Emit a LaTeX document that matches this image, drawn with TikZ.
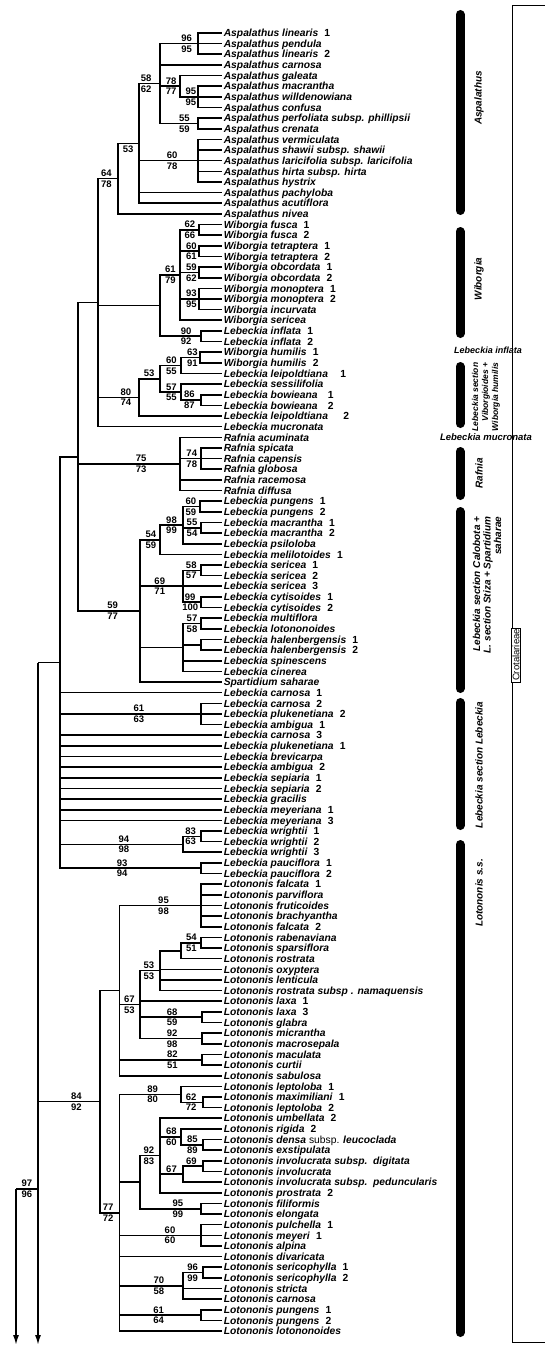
\documentclass[tikz,border=0pt]{standalone}
\usepackage{fontspec}
\setmainfont{Liberation Sans}
\usetikzlibrary{arrows.meta}
\newcommand\nr[1]{\hspace{.6em}\textup{#1}}

\begin{document}
\begin{tikzpicture}[x=1pt, y=-10.64pt, line width=1.6pt,
  leaf/.style={anchor=west, inner sep=1pt, text height=7.4pt, text depth=0pt,
    font=\fontsize{10.3}{11}\selectfont\bfseries\itshape},
  bsa/.style={above, pos=.76, inner sep=1.2pt, font=\fontsize{9.5}{9.5}\selectfont\bfseries},
  bsb/.style={below, pos=.76, inner sep=1.2pt, font=\fontsize{9.5}{9.5}\selectfont\bfseries},
  bar/.style={line width=9pt, line cap=round, shorten >=4.5pt, shorten <=4.5pt},
  grp/.style={rotate=90, inner sep=0pt, font=\fontsize{10}{10.5}\selectfont\bfseries\itshape},
  >={Latex[length=10pt,width=6pt]}]

% leaves, one per row
\foreach [count=\r] \t in {
  Aspalathus linearis\nr{1}, Aspalathus pendula, Aspalathus linearis\nr{2},
  Aspalathus carnosa, Aspalathus galeata, Aspalathus macrantha,
  Aspalathus willdenowiana, Aspalathus confusa,
  Aspalathus perfoliata subsp. phillipsii, Aspalathus crenata,
  Aspalathus vermiculata, Aspalathus shawii subsp. shawii,
  Aspalathus laricifolia subsp. laricifolia, Aspalathus hirta subsp. hirta,
  Aspalathus hystrix, Aspalathus pachyloba, Aspalathus acutiflora, Aspalathus nivea,
  Wiborgia fusca\nr{1}, Wiborgia fusca\nr{2}, Wiborgia tetraptera\nr{1},
  Wiborgia tetraptera\nr{2}, Wiborgia obcordata\nr{1}, Wiborgia obcordata\nr{2},
  Wiborgia monoptera\nr{1}, Wiborgia monoptera\nr{2}, Wiborgia incurvata,
  Wiborgia sericea, Lebeckia inflata\nr{1}, Lebeckia inflata\nr{2},
  Wiborgia humilis\nr{1}, Wiborgia humilis\nr{2}, Lebeckia leipoldtiana\hspace{.6em}\nr{1},
  Lebeckia sessilifolia, Lebeckia bowieana\hspace{.4em}\nr{1}, Lebeckia bowieana\hspace{.4em}\nr{2},
  Lebeckia leipoldtiana\hspace{.9em}\nr{2}, Lebeckia mucronata,
  Rafnia acuminata, Rafnia spicata, Rafnia capensis, Rafnia globosa,
  Rafnia racemosa, Rafnia diffusa,
  Lebeckia pungens\nr{1}, Lebeckia pungens\nr{2}, Lebeckia macrantha\nr{1},
  Lebeckia macrantha\nr{2}, Lebeckia psiloloba, Lebeckia melilotoides\nr{1},
  Lebeckia sericea\nr{1}, Lebeckia sericea\nr{2}, Lebeckia sericea\nr{3},
  Lebeckia cytisoides\nr{1}, Lebeckia cytisoides\nr{2}, Lebeckia multiflora,
  Lebeckia lotononoides, Lebeckia halenbergensis\nr{1}, Lebeckia halenbergensis\nr{2},
  Lebeckia spinescens, Lebeckia cinerea, Spartidium saharae,
  Lebeckia carnosa\nr{1}, Lebeckia carnosa\nr{2}, Lebeckia plukenetiana\nr{2},
  Lebeckia ambigua\nr{1}, Lebeckia carnosa\nr{3}, Lebeckia plukenetiana\nr{1},
  Lebeckia brevicarpa, Lebeckia ambigua\nr{2}, Lebeckia sepiaria\nr{1},
  Lebeckia sepiaria\nr{2}, Lebeckia gracilis, Lebeckia meyeriana\nr{1},
  Lebeckia meyeriana\nr{3}, Lebeckia wrightii\nr{1}, Lebeckia wrightii\nr{2},
  Lebeckia wrightii\nr{3}, Lebeckia pauciflora\nr{1}, Lebeckia pauciflora\nr{2},
  Lotononis falcata\nr{1}, Lotononis parviflora, Lotononis fruticoides,
  Lotononis brachyantha, Lotononis falcata\nr{2}, Lotononis rabenaviana,
  Lotononis sparsiflora, Lotononis rostrata, Lotononis oxyptera, Lotononis lenticula,
  Lotononis rostrata subsp . namaquensis, Lotononis laxa\nr{1}, Lotononis laxa\nr{3},
  Lotononis glabra, Lotononis micrantha, Lotononis macrosepala, Lotononis maculata,
  Lotononis curtii, Lotononis sabulosa, Lotononis leptoloba\nr{1},
  Lotononis maximiliani\nr{1}, Lotononis leptoloba\nr{2}, Lotononis umbellata\nr{2},
  Lotononis rigida\nr{2}, Lotononis densa {\mdseries\upshape subsp.} leucoclada,
  Lotononis exstipulata, Lotononis involucrata subsp.\ \ digitata,
  Lotononis involucrata, Lotononis involucrata subsp.\ \ peduncularis,
  Lotononis prostrata\nr{2}, Lotononis filiformis, Lotononis elongata,
  Lotononis pulchella\nr{1}, Lotononis meyeri\nr{1}, Lotononis alpina,
  Lotononis divaricata, Lotononis sericophylla\nr{1}, Lotononis sericophylla\nr{2},
  Lotononis stricta, Lotononis carnosa, Lotononis pungens\nr{1},
  Lotononis pungens\nr{2}, Lotononis lotononoides}
  \node[leaf] (l\r) at (222,\r) {\t};

% Aspalathus
\coordinate (lin) at (198,2);
\coordinate (mac) at (198,7);
\coordinate (gal) at (180,6);
\coordinate (perf) at (198,9.5);
\coordinate (a58) at (160,5.75);
\coordinate (shaw) at (198,13);
\coordinate (a53) at (139,11.375);
\coordinate (a64) at (118,14.6875);
\foreach \i in {1,2,3} \draw (lin) |- (l\i);
\foreach \i in {6,7,8} \draw (mac) |- (l\i);
\foreach \i in {9,10} \draw (perf) |- (l\i);
\foreach \i in {11,...,15} \draw (shaw) |- (l\i);
\draw (gal) |- (l5);
\draw (gal) |- node[bsa,pos=.8]{95} node[bsb,pos=.8]{95} (mac);
\draw (a58) |- node[bsa,pos=.85]{96} node[bsb,pos=.85]{95} (lin);
\draw (a58) |- (l4);
\draw (a58) |- node[bsa,pos=.78]{78} node[bsb,pos=.78]{77} (gal);
\draw (a58) |- node[bsa,pos=.82]{55} node[bsb,pos=.82]{59} (perf);
\draw (a53) |- node[bsa,pos=.67]{58} node[bsb,pos=.67]{62} (a58);
\draw (a53) |- node[bsa,pos=.78]{60} node[bsb,pos=.78]{78} (shaw);
\foreach \i in {16,17} \draw (a53) |- (l\i);
\draw (a64) |- node[bsb,pos=.74]{53} (a53);
\draw (a64) |- (l18);

% Wiborgia
\coordinate (wfus) at (199,19.5);
\coordinate (wtet) at (199,21.5);
\coordinate (wobc) at (199,23.5);
\coordinate (wmon) at (199,26);
\coordinate (w79) at (180,23.75);
\coordinate (winf) at (201,29.5);
\coordinate (wib) at (160,26.625);
\foreach \i in {19,20} \draw (wfus) |- (l\i);
\foreach \i in {21,22} \draw (wtet) |- (l\i);
\foreach \i in {23,24} \draw (wobc) |- (l\i);
\foreach \i in {25,26,27} \draw (wmon) |- (l\i);
\foreach \i in {29,30} \draw (winf) |- (l\i);
\draw (w79) |- node[bsa]{62} node[bsb]{66} (wfus);
\draw (w79) |- node[bsa,pos=.8]{60} node[bsb,pos=.8]{61} (wtet);
\draw (w79) |- node[bsa,pos=.8]{59} node[bsb,pos=.8]{62} (wobc);
\draw (w79) |- node[bsa,pos=.8]{93} node[bsb,pos=.8]{95} (wmon);
\draw (w79) |- (l28);
\draw (wib) |- node[bsa]{61} node[bsb]{79} (w79);
\draw (wib) |- node[bsa,pos=.82]{90} node[bsb,pos=.82]{92} (winf);

% Lebeckia section Viborgioides
\coordinate (vhum) at (200,31.5);
\coordinate (v55) at (181,32.25);
\coordinate (vbow) at (201,35.5);
\coordinate (v57) at (181,34.75);
\coordinate (v53) at (160,33.5);
\coordinate (v80) at (139,35.25);
\foreach \i in {31,32} \draw (vhum) |- (l\i);
\foreach \i in {35,36} \draw (vbow) |- (l\i);
\draw (v55) |- node[bsa,pos=.8]{63} node[bsb,pos=.8]{91} (vhum);
\draw (v55) |- (l33);
\draw (v57) |- (l34);
\draw (v57) |- node[bsa,pos=.71]{86} node[bsb,pos=.71]{87} (vbow);
\draw (v53) |- node[bsa,pos=.77]{60} node[bsb,pos=.77]{55} (v55);
\draw (v53) |- node[bsa,pos=.77]{57} node[bsb,pos=.77]{55} (v57);
\draw (v80) |- node[bsa,pos=.74]{53} (v53);
\draw (v80) |- (l37);

\coordinate (nA) at (98,26.34375);
\draw (nA) |- node[bsa,pos=.71]{64} node[bsb,pos=.71]{78} (a64);
\draw (nA) |- (wib);
\draw (nA) |- node[bsa,pos=.84]{80} node[bsb,pos=.84]{74} (v80);
\draw (nA) |- (l38);

% Rafnia
\coordinate (r74) at (201,41);
\coordinate (raf) at (180,41.5);
\foreach \i in {40,41,42} \draw (r74) |- (l\i);
\foreach \i in {39,43,44} \draw (raf) |- (l\i);
\draw (raf) |- node[bsa,pos=.78]{74} node[bsb,pos=.78]{78} (r74);

% Lebeckia sections Calobota and Stiza
\coordinate (cpun) at (200,45.5);
\coordinate (cmac) at (201,47.5);
\coordinate (c98) at (183,47.25);
\coordinate (c54) at (160,48.625);
\coordinate (cser) at (201,51.5);
\coordinate (ccyt) at (201,54.5);
\coordinate (c69) at (183,53);
\coordinate (cmul) at (201,56.5);
\coordinate (chal) at (201,58.5);
\coordinate (c58) at (183,58.75);
\coordinate (c59) at (140,55.3125);
\foreach \i in {45,46} \draw (cpun) |- (l\i);
\foreach \i in {47,48} \draw (cmac) |- (l\i);
\foreach \i in {51,52} \draw (cser) |- (l\i);
\foreach \i in {54,55} \draw (ccyt) |- (l\i);
\foreach \i in {56,57} \draw (cmul) |- (l\i);
\foreach \i in {58,59} \draw (chal) |- (l\i);
\draw (c98) |- node[bsa,pos=.73]{60} node[bsb,pos=.73]{59} (cpun);
\draw (c98) |- node[bsa,pos=.75]{55} node[bsb,pos=.75]{54} (cmac);
\draw (c98) |- (l49);
\draw (c54) |- node[bsa,pos=.75]{98} node[bsb,pos=.75]{99} (c98);
\draw (c54) |- (l50);
\draw (c69) |- node[bsa,pos=.73]{58} node[bsb,pos=.73]{57} (cser);
\draw (c69) |- (l53);
\draw (c69) |- node[bsa,pos=.7]{99} node[bsb,pos=.7]{100} (ccyt);
\draw (c58) |- node[bsa,pos=.75]{57} node[bsb,pos=.75]{58} (cmul);
\draw (c58) |- (chal);
\foreach \i in {60,61} \draw (c58) |- (l\i);
\draw (c59) |- node[bsa,pos=.77]{54} node[bsb,pos=.77]{59} (c54);
\draw (c59) |- node[bsa,pos=.73]{69} node[bsb,pos=.73]{71} (c69);
\draw (c59) |- (c58);
\draw (c59) |- (l62);

\coordinate (nB) at (78,40.828125);
\draw (nB) |- (nA);
\draw (nB) |- node[bsa,pos=.81]{75} node[bsb,pos=.81]{73} (raf);
\draw (nB) |- node[bsa,pos=.78]{59} node[bsb,pos=.78]{77} (c59);

% Lebeckia section Lebeckia
\coordinate (lcar) at (201,65);
\coordinate (lw83) at (201,76.5);
\coordinate (lw94) at (183,77.25);
\coordinate (lpau) at (201,79.5);
\coordinate (nC) at (60,60.1640625);
\foreach \i in {64,65,66} \draw (lcar) |- (l\i);
\foreach \i in {76,77} \draw (lw83) |- (l\i);
\foreach \i in {79,80} \draw (lpau) |- (l\i);
\draw (lw94) |- node[bsa,pos=.71]{83} node[bsb,pos=.71]{63} (lw83);
\draw (lw94) |- (l78);
\draw (nC) |- (nB);
\draw (nC) |- (l63);
\foreach \i in {67,...,75} \draw (nC) |- (l\i);
\draw (nC) |- node[bsa,pos=.78]{61} node[bsb,pos=.78]{63} (lcar);
\draw (nC) |- node[bsa,pos=.76]{94} node[bsb,pos=.76]{98} (lw94);
\draw (nC) |- node[bsa,pos=.72]{93} node[bsb,pos=.72]{94} (lpau);

% Lotononis s.s., first group
\coordinate (tfal) at (201,83);
\coordinate (trab) at (201,86.5);
\coordinate (tros) at (181,87.25);
\coordinate (t53) at (160,89.125);
\coordinate (tlax) at (202,93.5);
\coordinate (tmic) at (202,95.5);
\coordinate (t67) at (140,92.3125);
\coordinate (tmac) at (202,97.5);
\coordinate (tA) at (119.5,91);
\foreach \i in {81,...,85} \draw (tfal) |- (l\i);
\foreach \i in {86,87} \draw (trab) |- (l\i);
\foreach \i in {93,94} \draw (tlax) |- (l\i);
\foreach \i in {95,96} \draw (tmic) |- (l\i);
\foreach \i in {97,98} \draw (tmac) |- (l\i);
\draw (tros) |- node[bsa]{54} node[bsb]{51} (trab);
\draw (tros) |- (l88);
\draw (t53) |- (tros);
\foreach \i in {89,90,91} \draw (t53) |- (l\i);
\draw (t67) |- node[bsa,pos=.72]{53} node[bsb,pos=.72]{53} (t53);
\draw (t67) |- (l92);
\draw (t67) |- node[bsa]{68} node[bsb]{59} (tlax);
\draw (t67) |- node[bsa]{92} node[bsb]{98} (tmic);
\draw (tA) |- node[bsa,pos=.77]{95} node[bsb,pos=.77]{98} (tfal);
\draw (tA) |- node[bsa,pos=.74]{67} node[bsb,pos=.74]{53} (t67);
\draw (tA) |- node[bsa,pos=.82]{82} node[bsb,pos=.82]{51} (tmac);
\draw (tA) |- (l99);

% Lotononis s.s., second group
\coordinate (tmax) at (203,101.5);
\coordinate (t89) at (181,100.75);
\coordinate (tden) at (203,105.5);
\coordinate (trig) at (181,104.75);
\coordinate (tinv) at (203,107.5);
\coordinate (t67b) at (183,108.25);
\coordinate (t83) at (160,106.5);
\coordinate (tfil) at (201,111.5);
\coordinate (t92) at (140,109);
\coordinate (tpul) at (201,114);
\coordinate (tser) at (203,117.5);
\coordinate (t70) at (183,118.75);
\coordinate (tpun) at (201,121.5);
\coordinate (t77) at (119.5,111.875);
\foreach \i in {101,102} \draw (tmax) |- (l\i);
\foreach \i in {105,106} \draw (tden) |- (l\i);
\foreach \i in {107,108} \draw (tinv) |- (l\i);
\foreach \i in {111,112} \draw (tfil) |- (l\i);
\foreach \i in {113,114,115} \draw (tpul) |- (l\i);
\foreach \i in {117,118} \draw (tser) |- (l\i);
\foreach \i in {121,122} \draw (tpun) |- (l\i);
\draw (t89) |- (l100);
\draw (t89) |- node[bsa,pos=.73]{62} node[bsb,pos=.73]{72} (tmax);
\draw (trig) |- (l104);
\draw (trig) |- node[bsa]{85} node[bsb]{89} (tden);
\draw (t67b) |- node[bsa,pos=.71]{69} (tinv);
\draw (t67b) |- (l109);
\draw (t83) |- (l103);
\draw (t83) |- node[bsa,pos=.77]{68} node[bsb,pos=.77]{60} (trig);
\draw (t83) |- node[bsa,pos=.75]{67} (t67b);
\draw (t83) |- (l110);
\draw (t92) |- node[bsa,pos=.72]{92} node[bsb,pos=.72]{83} (t83);
\draw (t92) |- node[bsa,pos=.81]{95} node[bsb,pos=.81]{99} (tfil);
\draw (t70) |- node[bsa,pos=.74]{96} node[bsb,pos=.74]{99} (tser);
\foreach \i in {119,120} \draw (t70) |- (l\i);
\draw (t77) |- node[bsa,pos=.77]{89} node[bsb,pos=.77]{80} (t89);
\draw (t77) |- (t92);
\draw (t77) |- node[bsa,pos=.81]{60} node[bsb,pos=.81]{60} (tpul);
\draw (t77) |- (l116);
\draw (t77) |- node[bsa,pos=.81]{70} node[bsb,pos=.81]{58} (t70);
\draw (t77) |- node[bsa,pos=.74]{61} node[bsb,pos=.74]{64} (tpun);
\draw (t77) |- (l123);

\coordinate (lot) at (100,101.4375);
\draw (lot) |- (tA);
\draw (lot) |- node[bsa,pos=.71]{77} node[bsb,pos=.71]{72} (t77);

% base of the tree, continued below
\coordinate (root) at (38,60.1640625);
\coordinate (rootend) at (38,124.31);
\coordinate (join) at (38,109.65);
\coordinate (base) at (16,109.65);
\coordinate (baseend) at (16,124.31);
\draw (root) -- (nC);
\draw (root) |- node[bsa,pos=.81]{84} node[bsb,pos=.81]{92} (lot);
\draw[->] (root) -- (rootend);
\draw (base) -- node[bsa,pos=.5]{97} node[bsb,pos=.5]{96} (join);
\draw[->] (base) -- (baseend);

% bars and group names, in pixel units
\begin{scope}[y=-1pt, yshift=22.36pt]
  \useasboundingbox (0,0) rectangle (545,1346);
  \foreach \t/\b in {10/215, 227/338, 362/428, 447/500, 507/693, 698/830, 840/1337}
    \draw[bar] (460,\t) -- (460,\b);
  \node[grp] (gasp) at (479,98) {Aspalathus};
  \node[grp] (gwib) at (479,279) {Wiborgia};
  \node[grp, align=right, font=\fontsize{8.5}{10}\selectfont\bfseries\itshape] (gvib) at (486,397) {Lebeckia section\\Viborgioides +\\Wiborgia humilis};
  \node[grp] (graf) at (479,473) {Rafnia};
  \node[grp, align=right] (gcal) at (487,585) {Lebeckia section Calobota +\\L. section Stiza + Spartidium\\saharae};
  \node[grp] (gleb) at (479,765) {Lebeckia section Lebeckia};
  \node[grp] (glot) at (479,893) {Lotononis s.s.};
  \node[inner sep=0pt, font=\fontsize{9}{9}\selectfont\bfseries\itshape] (ginf) at (488,350) {Lebeckia inflata};
  \node[inner sep=0pt, font=\fontsize{9.5}{9.5}\selectfont\bfseries\itshape] (gmuc) at (486,437) {Lebeckia mucronata};
  % tribe bracket
  \draw[line width=.6pt] (545,5) -| (512,1342) -- (545,1342);
  \node[draw, line width=.5pt, rotate=90, inner sep=1pt, fill=white, font=\fontsize{9.5}{9.5}\selectfont] (crot) at (516,655) {Crotalarieae};
\end{scope}
\end{tikzpicture}
\end{document}
